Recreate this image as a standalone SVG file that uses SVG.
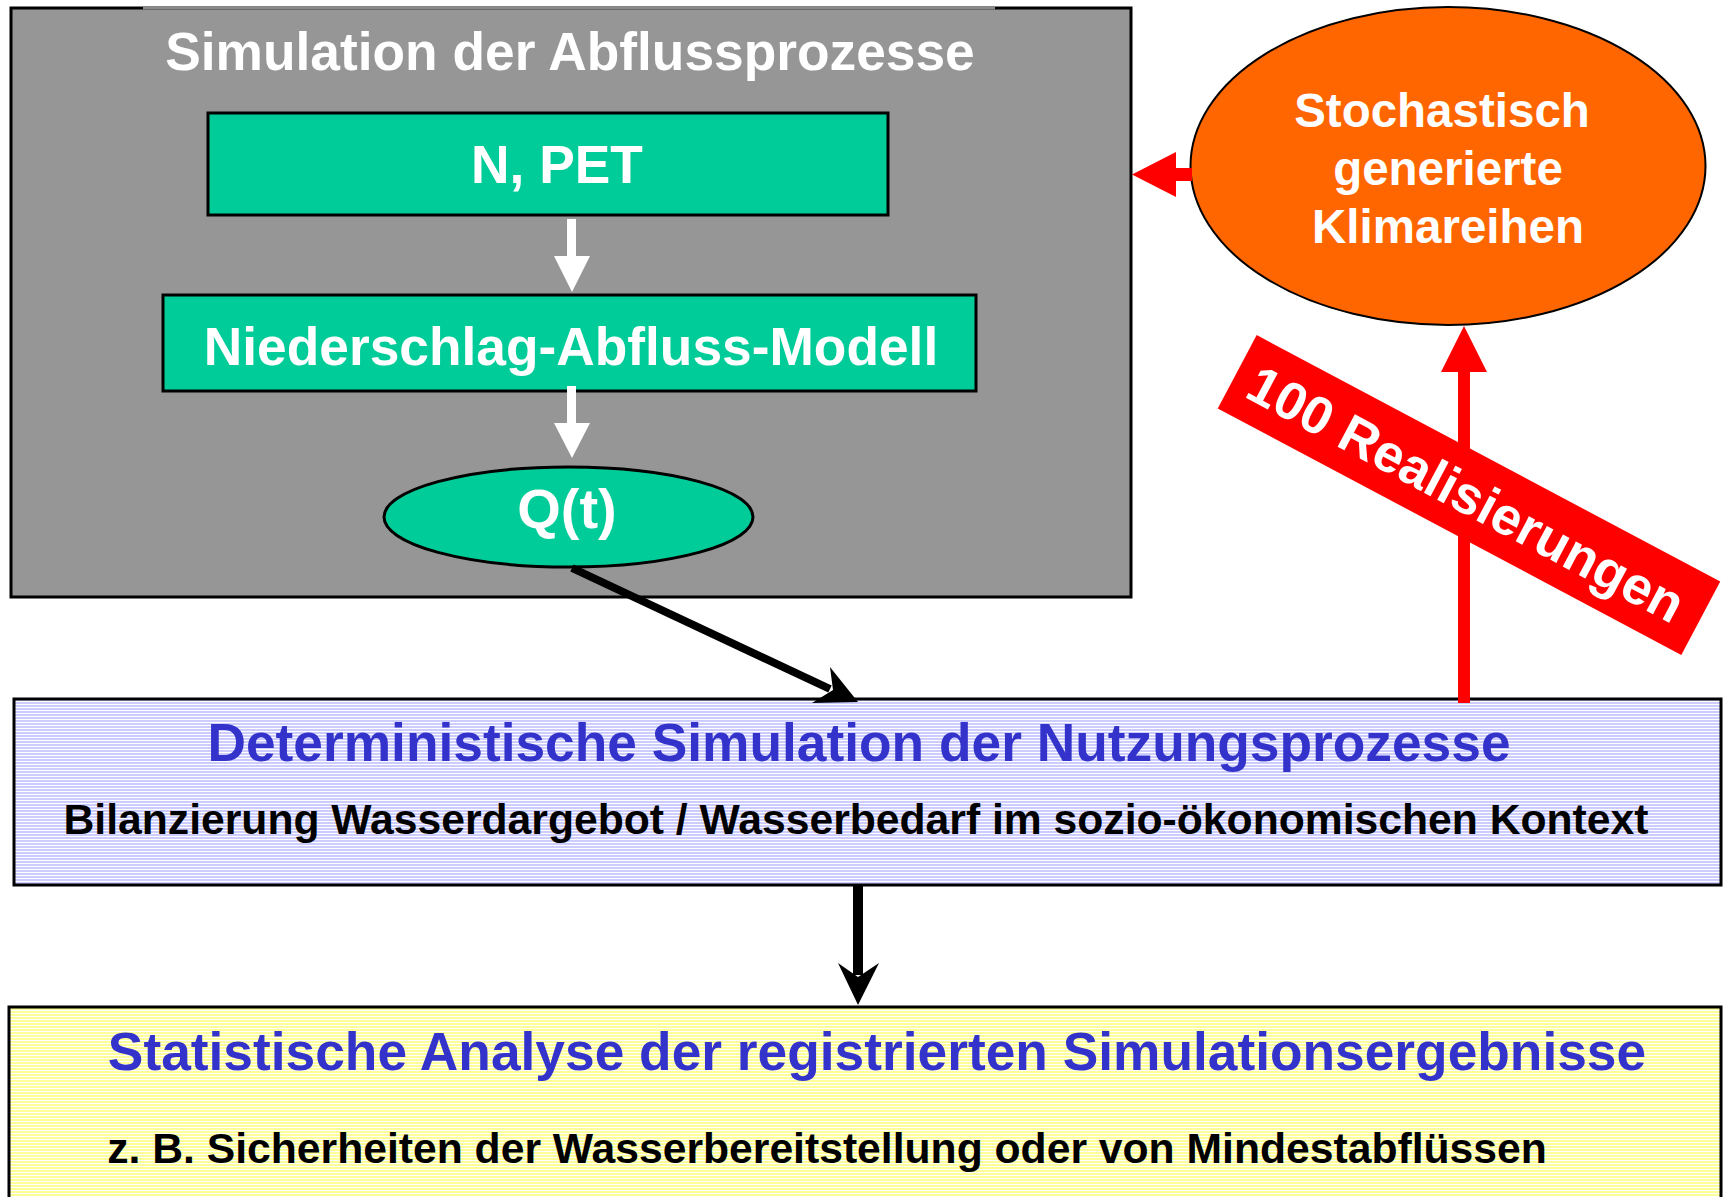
<svg xmlns="http://www.w3.org/2000/svg" width="1724" height="1197" viewBox="0 0 1724 1197">
  <style>
    text { font-family: "Liberation Sans", Arial, sans-serif; font-weight: bold; }
    .white { fill: #ffffff; }
    .blue { fill: #3333cc; }
    .black { fill: #000000; }
    .green { fill: #00cc99; stroke: #000000; stroke-width: 3; }
    .frame { stroke: #000000; stroke-width: 3; }
  </style>
  <defs>
    <pattern id="lavenderLines" width="8" height="3" patternUnits="userSpaceOnUse">
      <rect width="8" height="3" fill="#ccccff"/>
      <rect y="2" width="8" height="1" fill="#ffffff"/>
    </pattern>
    <pattern id="yellowLines" width="8" height="3" patternUnits="userSpaceOnUse">
      <rect width="8" height="3" fill="#ffff99"/>
      <rect y="2" width="8" height="1" fill="#ffffff"/>
    </pattern>
  </defs>

  <rect width="1724" height="1197" fill="#ffffff"/>

  <!-- runoff simulation frame -->
  <g id="abfluss">
    <rect x="11" y="8" width="1120" height="589" fill="#969696" class="frame"/>
    <line x1="143" y1="8" x2="995" y2="8" stroke="#8a8a8a" stroke-width="3"/>
    <text x="570" y="70" font-size="53.3" text-anchor="middle" class="white">Simulation der Abflussprozesse</text>
  </g>

  <g id="n-pet">
    <rect x="208" y="113" width="680" height="102" class="green"/>
    <text x="557" y="183" font-size="53.3" text-anchor="middle" class="white">N, PET</text>
  </g>

  <g id="na-modell">
    <rect x="163" y="295" width="813" height="96" class="green"/>
    <text x="571" y="365" font-size="53.3" text-anchor="middle" class="white">Niederschlag-Abfluss-Modell</text>
  </g>

  <g id="qt">
    <ellipse cx="568.5" cy="517" rx="184.5" ry="50" class="green"/>
    <text x="567" y="528" font-size="56" text-anchor="middle" class="white">Q(t)</text>
  </g>

  <g id="klimareihen">
    <ellipse cx="1448" cy="166" rx="257.5" ry="159" fill="#ff6600" stroke="#000000" stroke-width="2"/>
    <text x="1442" y="127" font-size="47.5" text-anchor="middle" class="white">Stochastisch</text>
    <text x="1448" y="185" font-size="47.5" text-anchor="middle" class="white">generierte</text>
    <text x="1448" y="243" font-size="47.5" text-anchor="middle" class="white">Klimareihen</text>
  </g>

  <g id="nutzung">
    <rect x="14" y="699" width="1707" height="186" fill="url(#lavenderLines)" class="frame"/>
    <text x="859" y="761" font-size="53.3" text-anchor="middle" class="blue">Deterministische Simulation der Nutzungsprozesse</text>
    <text x="856" y="834" font-size="42.67" text-anchor="middle" class="black">Bilanzierung Wasserdargebot / Wasserbedarf im sozio-ökonomischen Kontext</text>
  </g>

  <g id="statistik">
    <rect x="9" y="1007" width="1712" height="200" fill="url(#yellowLines)" class="frame"/>
    <text x="877" y="1070" font-size="53.3" text-anchor="middle" class="blue">Statistische Analyse der registrierten Simulationsergebnisse</text>
    <text x="827" y="1163" font-size="42.67" text-anchor="middle" class="black">z. B. Sicherheiten der Wasserbereitstellung oder von Mindestabflüssen</text>
  </g>

  <!-- connectors -->
  <g id="connectors">
    <!-- N, PET to model -->
    <rect x="567" y="219" width="9" height="38" fill="#ffffff"/>
    <polygon points="554,256 590,256 572,292" fill="#ffffff"/>
    <!-- model to Q(t) -->
    <rect x="567" y="386" width="9" height="38" fill="#ffffff"/>
    <polygon points="554,423 590,423 572,458" fill="#ffffff"/>
    <!-- Q(t) to usage simulation -->
    <line x1="572" y1="568" x2="830" y2="689" stroke="#000000" stroke-width="8"/>
    <polygon points="858,702 830,667 833,690 812,703" fill="#000000"/>
    <!-- usage simulation to statistics -->
    <rect x="853" y="885" width="10" height="90" fill="#000000"/>
    <polygon points="858,1005 838,963 858,977 879,963" fill="#000000"/>
    <!-- usage simulation back to climate series -->
    <rect x="1458" y="370" width="12" height="333" fill="#ff0000"/>
    <polygon points="1441,372 1487,372 1464,326" fill="#ff0000"/>
    <!-- climate series into runoff simulation -->
    <rect x="1174" y="168" width="18" height="13" fill="#ff0000"/>
    <polygon points="1176,152 1176,197 1132,174.5" fill="#ff0000"/>
  </g>

  <g id="realisierungen" transform="translate(1469,495) rotate(28)">
    <rect x="-262.5" y="-41.5" width="525" height="83" fill="#ff0000"/>
    <text x="-3" y="19" font-size="53.3" text-anchor="middle" class="white">100 Realisierungen</text>
  </g>
</svg>
